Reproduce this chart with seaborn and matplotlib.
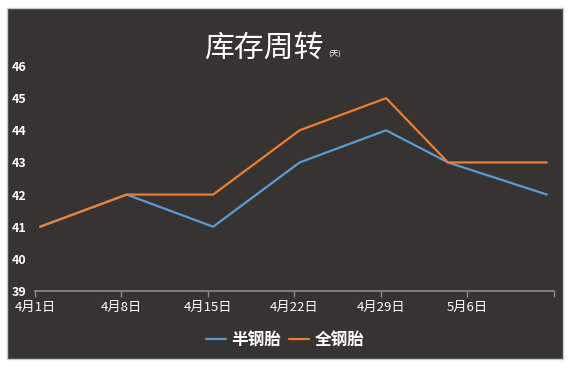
import matplotlib
matplotlib.use("Agg")
import matplotlib.pyplot as plt
from matplotlib.patches import Rectangle
import pandas as pd
import seaborn as sns

# data
dates = ["2015-04-01 10:00", "2015-04-08 10:00", "2015-04-15 10:00", "2015-04-22 10:00",
         "2015-04-29 10:00", "2015-05-04 10:00", "2015-05-12 10:00"]
semi_steel = [41, 42, 41, 43, 44, 43, 42]   # 半钢胎
all_steel = [41, 42, 42, 44, 45, 43, 43]    # 全钢胎
tick_dates = ["2015-04-01", "2015-04-08", "2015-04-15", "2015-04-22",
              "2015-04-29", "2015-05-06", "2015-05-13"]
tick_labels = ["4月1日", "4月8日", "4月15日", "4月22日", "4月29日", "5月6日", ""]

df = pd.DataFrame({
    "date": pd.to_datetime(dates * 2),
    "value": semi_steel + all_steel,
    "series": ["半钢胎"] * len(dates) + ["全钢胎"] * len(dates),
})

sns.set_style("dark")
plt.rcParams["font.family"] = ["Noto Sans CJK SC", "DejaVu Sans"]

bg = "#363331"
fig = plt.figure(figsize=(5.7, 3.68), dpi=100)
fig.patch.set_facecolor("white")
panel = Rectangle((7 / 570, 9 / 368), 556 / 570, 351 / 368,
                  transform=fig.transFigure, facecolor=bg,
                  edgecolor="#c8c8c8", linewidth=1, zorder=-10)
fig.add_artist(panel)

ax = fig.add_axes([35 / 570, 77 / 368, 519 / 570, 225 / 368])
ax.set_zorder(1)
ax.set_facecolor(bg)

sns.lineplot(data=df, x="date", y="value", hue="series",
             palette=["#5b9bd5", "#ed7d31"], linewidth=1.6, ax=ax)

ax.set_ylim(39, 46)
ax.set_yticks(range(39, 47))
ax.set_xlim(pd.Timestamp(tick_dates[0]), pd.Timestamp(tick_dates[-1]))
ax.set_xticks(pd.to_datetime(tick_dates))
ax.set_xticklabels(tick_labels)
ax.set_xlabel("")
ax.set_ylabel("")
ax.grid(False)

for side in ["top", "right", "left"]:
    ax.spines[side].set_visible(False)
ax.spines["bottom"].set_visible(True)
ax.spines["bottom"].set_color("#8a8a8a")
ax.spines["bottom"].set_linewidth(1.2)

ax.tick_params(axis="x", colors="#8a8a8a", direction="out", length=4, width=1,
               labelcolor="white", labelsize=9.5, pad=3, bottom=True)
ax.tick_params(axis="y", length=0, labelcolor="white", labelsize=9, pad=6)
for lab in ax.get_yticklabels():
    lab.set_fontweight("bold")

fig.text(264 / 570, 1 - 48 / 368, "库存周转", color="white", fontsize=21.5,
         ha="center", va="center")
fig.text(328 / 570, 1 - 55 / 368, "(天)", color="white", fontsize=5.5,
         ha="left", va="center")

leg = ax.legend(loc="center", bbox_to_anchor=(285 / 570, 1 - 340 / 368),
                bbox_transform=fig.transFigure, ncol=2, frameon=False,
                fontsize=12, handlelength=1.2, handletextpad=0.35,
                columnspacing=0.45, title=None)
for t in leg.get_texts():
    t.set_color("white")
    t.set_fontweight("bold")

fig.savefig("out.png", dpi=100, facecolor=fig.get_facecolor())
